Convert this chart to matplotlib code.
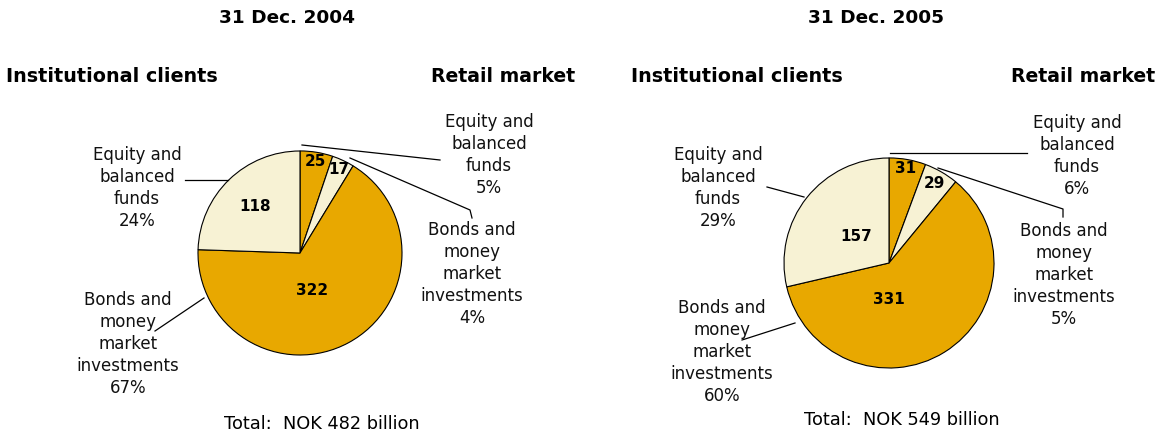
import numpy as np
import matplotlib.pyplot as plt

W, H = 1156, 434

# Data: retail equity, retail bonds, institutional bonds, institutional equity
years = ['31 Dec. 2004', '31 Dec. 2005']
values_2004 = [25, 17, 322, 118]
values_2005 = [31, 29, 331, 157]
totals = [482, 549]
pct_2004 = ['5%', '4%', '67%', '24%']
pct_2005 = ['6%', '5%', '60%', '29%']
segment_names = ['Equity and\nbalanced\nfunds',
                 'Bonds and\nmoney\nmarket\ninvestments',
                 'Bonds and\nmoney\nmarket\ninvestments',
                 'Equity and\nbalanced\nfunds']

ORANGE = '#E8A800'
CREAM = '#F7F2D4'
colors = [ORANGE, CREAM, ORANGE, CREAM]
explode = [0.07, 0.04, 0, 0]

# layout in pixels (image coords, y down)
layouts = [
    dict(center=(300, 253), r=102, title_x=287, left_x=6, right_x=575,
         total_pos=(322, 424),
         # radial fraction and angle shift for the value labels
         inner=[(0.91, 0), (0.90, 0), (0.39, -10.5), (0.63, 0)],
         # label center, leader from (text side) to (pie side)
         labels=[((489, 155), [(440, 160), (302, 145)]),
                 ((472, 274), [(472, 218), (470, 210), (350, 158)]),
                 ((128, 344), [(155, 331), (204, 298)]),
                 ((137, 188), [(185, 180), (228, 180)])]),
    dict(center=(889, 263), r=105, title_x=876, left_x=631, right_x=1155,
         total_pos=(902, 420),
         inner=[(0.91, 0), (0.87, 0), (0.35, -32), (0.40, 0)],
         labels=[((1077, 156), [(1027, 153), (890, 153)]),
                 ((1064, 275), [(1063, 217), (1063, 209), (938, 168)]),
                 ((722, 352), [(742, 340), (795, 323)]),
                 ((718, 188), [(767, 187), (804, 197)])]),
]

fig = plt.figure(figsize=(W / 100, H / 100), dpi=100)
ax = fig.add_axes([0, 0, 1, 1])

FONT = 'DejaVu Sans'

for year, vals, pcts, total, lay in zip(years, [values_2004, values_2005],
                                        [pct_2004, pct_2005], totals, layouts):
    cx, cy = lay['center']
    cy = H - cy
    r = lay['r']
    wedges, _ = ax.pie(vals, colors=colors, explode=explode, startangle=90,
                       counterclock=False, center=(cx, cy), radius=r,
                       wedgeprops=dict(edgecolor='black', linewidth=0.8))

    # value labels inside slices
    for w, v, (frac, shift) in zip(wedges, vals, lay['inner']):
        ang = np.deg2rad((w.theta1 + w.theta2) / 2 + shift)
        wx, wy = w.center
        ax.text(wx + frac * r * np.cos(ang), wy + frac * r * np.sin(ang), str(v),
                ha='center', va='center', fontsize=11, fontweight='bold',
                family=FONT)

    # outer labels with leader lines
    for name, pct, (pos, leader) in zip(segment_names, pcts, lay['labels']):
        ax.text(pos[0], H - pos[1], name + '\n' + pct, ha='center', va='center',
                fontsize=12, family=FONT, linespacing=1.28, color='#111111')
        xs = [p[0] for p in leader]
        ys = [H - p[1] for p in leader]
        ax.plot(xs, ys, color='black', linewidth=0.9)

    ax.text(lay['title_x'], H - 18, year, ha='center', va='center',
            fontsize=13.3, fontweight='bold', family=FONT)
    ax.text(lay['left_x'], H - 77, 'Institutional clients', ha='left',
            va='center', fontsize=13.8, fontweight='bold', family=FONT)
    ax.text(lay['right_x'], H - 77, 'Retail market', ha='right',
            va='center', fontsize=13.6, fontweight='bold', family=FONT)
    tx, ty = lay['total_pos']
    ax.text(tx, H - ty, 'Total:  NOK %d billion' % total,
            ha='center', va='center', fontsize=12.8, family=FONT)

ax.set_xlim(0, W)
ax.set_ylim(0, H)
ax.set_aspect('equal')
ax.axis('off')

fig.savefig('out.png', dpi=100, facecolor='white')
